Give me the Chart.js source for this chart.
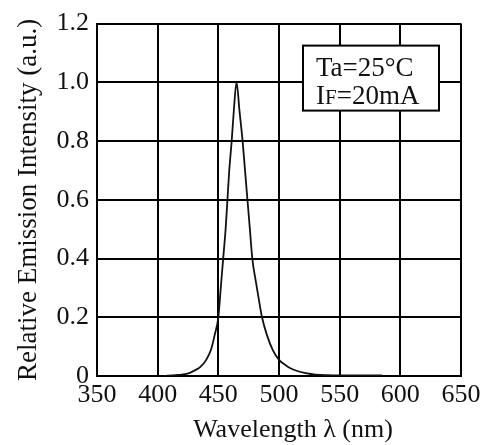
<!DOCTYPE html>
<html>
<head>
<meta charset="utf-8">
<script src="https://cdn.jsdelivr.net/npm/chart.js@4"></script>
<style>
  body { margin: 0; background: #fff; }
  #wrap { width: 490px; height: 445px; }
</style>
</head>
<body>
<div id="wrap"><canvas id="spectrum" width="490" height="445"></canvas></div>
<script>
// spectrum
const wavelengths = [405, 415, 420, 426, 430, 435, 440, 444, 447, 450, 452, 454, 456, 457.5, 459, 461, 462.7, 465,
                     467.5, 470, 472, 474, 476, 478, 481, 483, 486, 490, 495, 500, 505, 509, 515, 522, 530, 540, 560, 585];
const intensity = [0, 0.003, 0.005, 0.01, 0.018, 0.03, 0.055, 0.09, 0.14, 0.2, 0.3, 0.4, 0.5, 0.6, 0.7, 0.8, 0.9, 1.0,
                   0.9, 0.8, 0.7, 0.6, 0.5, 0.4, 0.32, 0.27, 0.2, 0.14, 0.087, 0.055, 0.038, 0.027, 0.017, 0.01, 0.005, 0.003, 0.002, 0.002];
const xTicks = [350, 400, 450, 500, 550, 600, 650];
const yTicks = [0, 0.2, 0.4, 0.6, 0.8, 1.0, 1.2];
const conditions = ['Ta=25°C', 'IF=20mA'];
const xTitle = 'Wavelength λ (nm)';

const serif = 'Liberation Serif';
const ink = '#111';

// condition box in the top right corner + the x axis title (sits a bit right of centre)
const annotations = {
    id: 'annotations',
    afterDraw(chart) {
        const ctx = chart.ctx;
        const area = chart.chartArea;
        const left = area.right - 158, top = area.top + 22;
        ctx.save();
        ctx.fillStyle = '#fff';
        ctx.fillRect(left, top, 136, 65);
        ctx.strokeStyle = '#000';
        ctx.lineWidth = 2;
        ctx.strokeRect(left, top, 136, 65);
        ctx.fillStyle = ink;
        ctx.textBaseline = 'alphabetic';
        ctx.font = '27px "' + serif + '"';
        ctx.fillText(conditions[0], left + 13, top + 30);
        let x = left + 13;
        const y = top + 58;
        ctx.fillText('I', x, y);
        x += ctx.measureText('I').width;
        ctx.font = '21px "' + serif + '"';
        ctx.fillText('F', x, y);
        x += ctx.measureText('F').width;
        ctx.font = '27px "' + serif + '"';
        ctx.fillText(conditions[1].slice(2), x, y);

        ctx.font = '26px "' + serif + '"';
        ctx.textAlign = 'center';
        ctx.fillText(xTitle, (area.left + area.right) / 2 + 14, area.bottom + 61);
        ctx.restore();
    }
};

new Chart(document.getElementById('spectrum'), {
    type: 'line',
    data: {
        datasets: [{
            data: wavelengths.map((w, i) => ({x: w, y: intensity[i]})),
            borderColor: ink,
            borderWidth: 1.8,
            pointRadius: 0,
            fill: false,
            cubicInterpolationMode: 'monotone'
        }]
    },
    options: {
        responsive: false,
        animation: false,
        layout: {padding: {top: 19, right: 29, left: 0, bottom: 0}},
        plugins: {legend: {display: false}, tooltip: {enabled: false}},
        scales: {
            x: {
                type: 'linear',
                min: 350,
                max: 650,
                afterBuildTicks: s => { s.ticks = xTicks.map(v => ({value: v})); },
                afterFit: s => { s.height = 69; },
                grid: {color: '#000', lineWidth: 2, drawTicks: false},
                border: {color: '#000', width: 2},
                ticks: {color: ink, font: {family: serif, size: 26}, padding: 4, maxRotation: 0}
            },
            y: {
                min: 0,
                max: 1.2,
                afterBuildTicks: s => { s.ticks = yTicks.map(v => ({value: v})); },
                afterFit: s => { s.width = 97; },
                grid: {color: '#000', lineWidth: 2, drawTicks: false},
                border: {color: '#000', width: 2},
                ticks: {
                    color: ink,
                    font: {family: serif, size: 26},
                    padding: 8,
                    callback: v => v === 0 ? '0' : v.toFixed(1)
                },
                title: {display: true, text: 'Relative Emission Intensity (a.u.)', color: ink, font: {family: serif, size: 27}, padding: {top: 13, bottom: 0}}
            }
        }
    },
    plugins: [annotations]
});
</script>
</body>
</html>
